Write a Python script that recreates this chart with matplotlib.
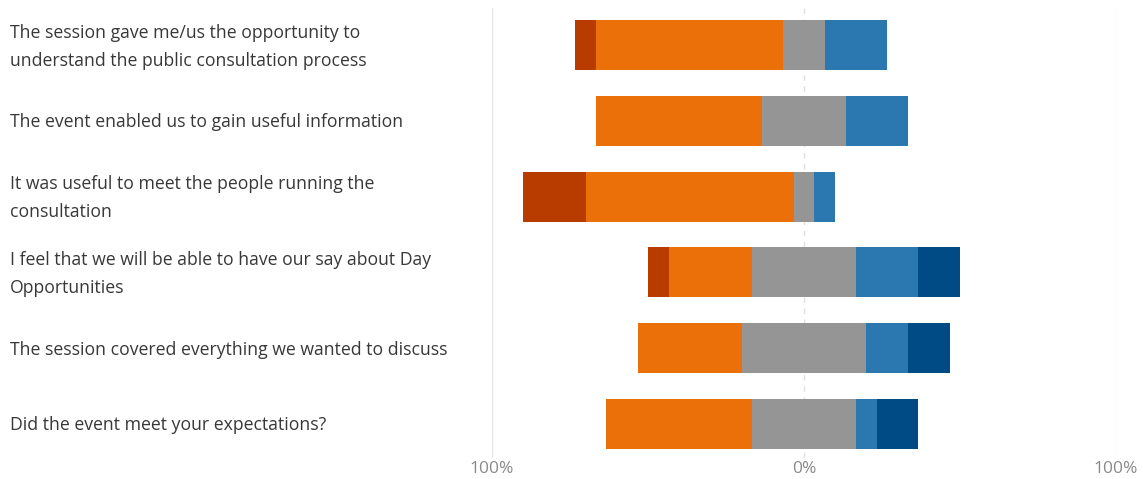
import matplotlib.pyplot as plt
import matplotlib.transforms as mtransforms

# survey statements (top to bottom)
statements = [
    "The session gave me/us the opportunity to\nunderstand the public consultation process",
    "The event enabled us to gain useful information",
    "It was useful to meet the people running the\nconsultation",
    "I feel that we will be able to have our say about Day\nOpportunities",
    "The session covered everything we wanted to discuss",
    "Did the event meet your expectations?",
]

# responses per statement (15 respondents)
strongly_neg = [1, 0, 3, 1, 0, 0]
neg = [9, 8, 10, 4, 5, 7]
neutral = [2, 4, 1, 5, 6, 5]
pos = [3, 3, 1, 3, 2, 1]
strongly_pos = [0, 0, 0, 2, 2, 2]

tick_labels = ["100%", "0%", "100%"]

colors = ["#b83c00", "#ec700a", "#959595", "#2b78b0", "#004a85"]

plt.rcParams['font.family'] = ['Open Sans', 'DejaVu Sans']

fig = plt.figure(figsize=(11.43, 4.79), dpi=100)
ax = fig.add_axes([492 / 1143, 1 - 458 / 479, 624 / 1143, 450 / 479])

for i in range(len(statements)):
    tot = strongly_neg[i] + neg[i] + neutral[i] + pos[i] + strongly_pos[i]
    p = [v / tot * 100 for v in (strongly_neg[i], neg[i], neutral[i], pos[i], strongly_pos[i])]
    start = -p[2] / 2 - p[1] - p[0]
    for val, col in zip(p, colors):
        if val > 0:
            ax.barh(i, val, left=start, height=0.66, color=col, edgecolor='none')
        start += val

ax.set_xlim(-100, 100)
ax.set_ylim(5.45, -0.49)
ax.axvline(-100, color='#e6e6e6', lw=1, zorder=0)
ax.axvline(100, color='#e6e6e6', lw=1, zorder=0)
ax.axvline(0, color='#e0e0e0', lw=1, ls=(0, (4, 4)), zorder=0)

for s in ax.spines.values():
    s.set_visible(False)
ax.set_yticks([])
ax.set_xticks([-100, 0, 100])
ax.set_xticklabels(tick_labels, color='#8a8a8a', fontsize=12.5)
ax.tick_params(axis='x', length=0, pad=2)

trans = mtransforms.blended_transform_factory(fig.transFigure, ax.transData)
for i, s in enumerate(statements):
    ax.text(10 / 1143, i + 0.02, s, transform=trans, ha='left', va='center',
            fontsize=12.7, color='#383838', linespacing=1.72)

fig.savefig("out.png", dpi=100)
